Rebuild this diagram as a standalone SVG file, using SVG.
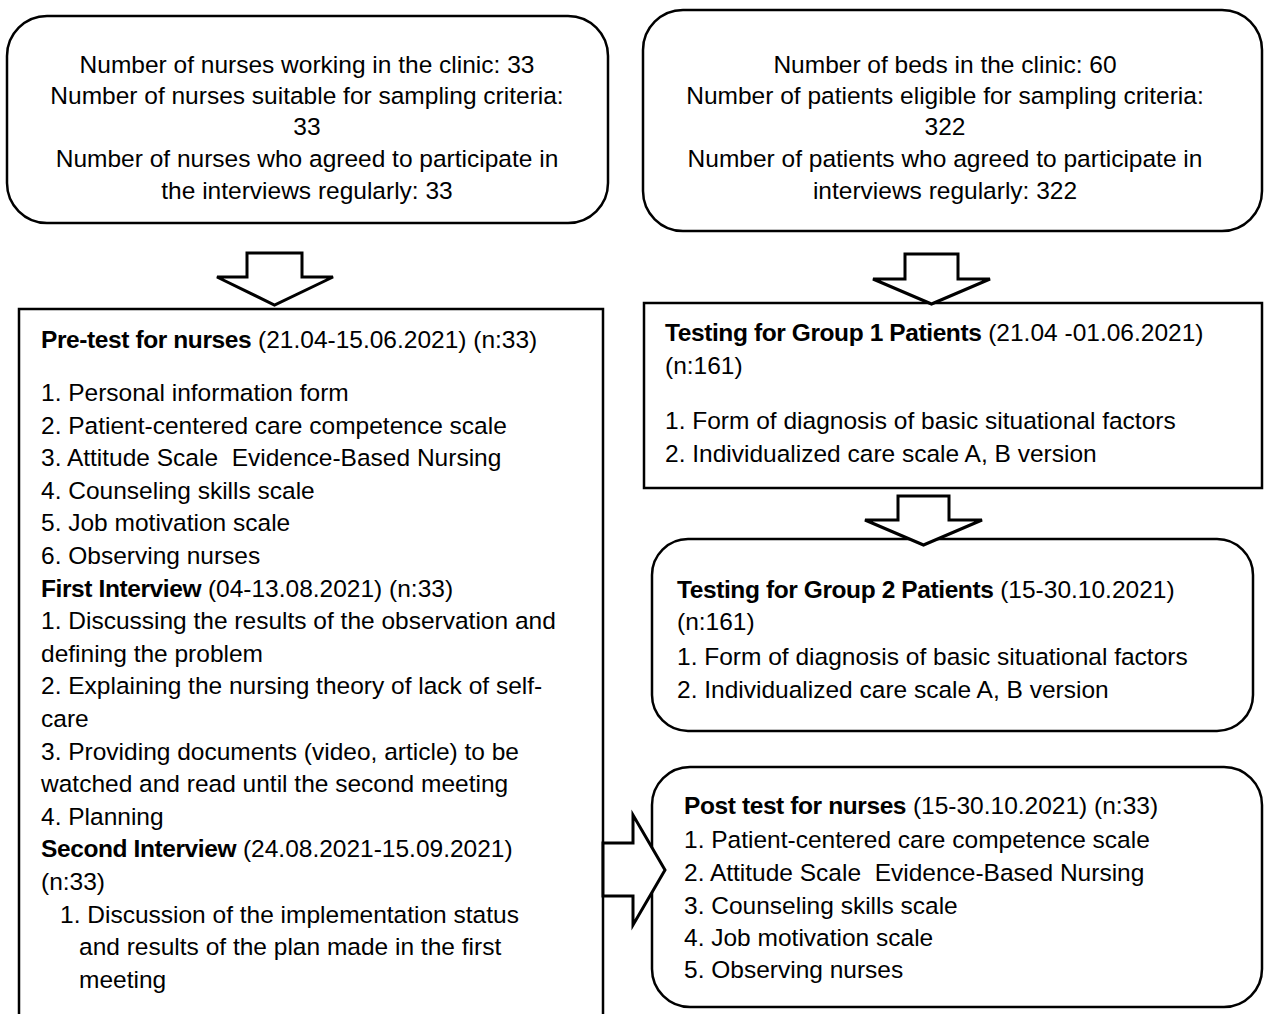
<svg xmlns="http://www.w3.org/2000/svg" width="1268" height="1014" viewBox="0 0 1268 1014">
<style>
.box{fill:#fff;stroke:#000;stroke-width:2.5}
.arrow{fill:#fff;stroke:#000;stroke-width:3;stroke-linejoin:miter}
text{font-family:"Liberation Sans",Arial,sans-serif;font-size:24.5px;fill:#000}
.c{text-anchor:middle}
.b{font-weight:bold;letter-spacing:-0.4px}
</style>
<rect width="1268" height="1014" fill="#fff"/>
<g id="nurses-sample">
<rect class="box" x="7" y="16" width="601" height="207" rx="40" ry="40"/>
<text class="c" x="307" y="73">Number of nurses working in the clinic: 33</text>
<text class="c" x="307" y="104">Number of nurses suitable for sampling criteria:</text>
<text class="c" x="307" y="135">33</text>
<text class="c" x="307" y="167">Number of nurses who agreed to participate in</text>
<text class="c" x="307" y="199">the interviews regularly: 33</text>
</g>
<g id="patients-sample">
<rect class="box" x="643" y="10" width="619" height="221" rx="40" ry="40"/>
<text class="c" x="945" y="73">Number of beds in the clinic: 60</text>
<text class="c" x="945" y="104">Number of patients eligible for sampling criteria:</text>
<text class="c" x="945" y="135">322</text>
<text class="c" x="945" y="167">Number of patients who agreed to participate in</text>
<text class="c" x="945" y="199">interviews regularly: 322</text>
</g>
<g id="pretest-nurses">
<rect class="box" x="19" y="309" width="584" height="720"/>
<text x="41" y="348"><tspan class="b">Pre-test for nurses</tspan> (21.04-15.06.2021) (n:33)</text>
<text x="41" y="401">1. Personal information form</text>
<text x="41" y="434">2. Patient-centered care competence scale</text>
<text x="41" y="466">3. Attitude Scale&#160; Evidence-Based Nursing</text>
<text x="41" y="499">4. Counseling skills scale</text>
<text x="41" y="531">5. Job motivation scale</text>
<text x="41" y="564">6. Observing nurses</text>
<text x="41" y="597"><tspan class="b">First Interview</tspan> (04-13.08.2021) (n:33)</text>
<text x="41" y="629">1. Discussing the results of the observation and</text>
<text x="41" y="662">defining the problem</text>
<text x="41" y="694">2. Explaining the nursing theory of lack of self-</text>
<text x="41" y="727">care</text>
<text x="41" y="760">3. Providing documents (video, article) to be</text>
<text x="41" y="792">watched and read until the second meeting</text>
<text x="41" y="825">4. Planning</text>
<text x="41" y="857"><tspan class="b">Second Interview</tspan> (24.08.2021-15.09.2021)</text>
<text x="41" y="890">(n:33)</text>
<text x="60" y="923">1. Discussion of the implementation status</text>
<text x="79" y="955">and results of the plan made in the first</text>
<text x="79" y="988">meeting</text>
</g>
<g id="group1-patients">
<rect class="box" x="644" y="303" width="618" height="185"/>
<text x="665" y="341"><tspan class="b">Testing for Group 1 Patients</tspan> (21.04 -01.06.2021)</text>
<text x="665" y="374">(n:161)</text>
<text x="665" y="429">1. Form of diagnosis of basic situational factors</text>
<text x="665" y="462">2. Individualized care scale A, B version</text>
</g>
<g id="group2-patients">
<rect class="box" x="652" y="539" width="601" height="192" rx="36" ry="36"/>
<text x="677" y="598"><tspan class="b">Testing for Group 2 Patients</tspan> (15-30.10.2021)</text>
<text x="677" y="630">(n:161)</text>
<text x="677" y="665">1. Form of diagnosis of basic situational factors</text>
<text x="677" y="698">2. Individualized care scale A, B version</text>
</g>
<g id="posttest-nurses">
<rect class="box" x="652" y="767" width="610" height="240" rx="38" ry="38"/>
<text x="684" y="814"><tspan class="b">Post test for nurses</tspan> (15-30.10.2021) (n:33)</text>
<text x="684" y="848">1. Patient-centered care competence scale</text>
<text x="684" y="881">2. Attitude Scale&#160; Evidence-Based Nursing</text>
<text x="684" y="914">3. Counseling skills scale</text>
<text x="684" y="946">4. Job motivation scale</text>
<text x="684" y="978">5. Observing nurses</text>
</g>
<g id="connectors">
<polygon class="arrow" points="247,253 302,253 302,277 333,277 274.5,305 217,277 247,277"/>
<polygon class="arrow" points="905,254 958,254 958,279 990,279 931.5,304 873,279 905,279"/>
<polygon class="arrow" points="898,496 949,496 949,520 982,520 923.5,545 865,520 898,520"/>
<polygon class="arrow" points="603,843 633,843 633,815 665,870 633,925 633,896 603,896"/>
</g>
</svg>
